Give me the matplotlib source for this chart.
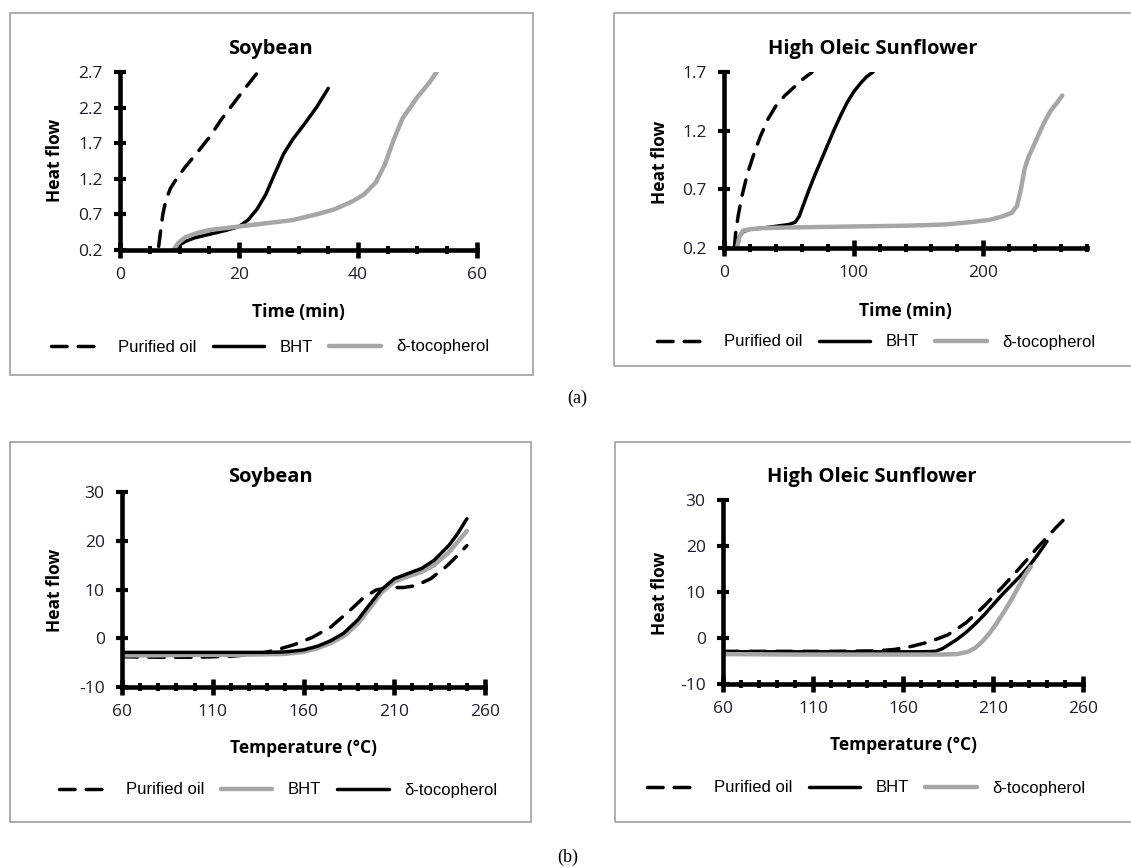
import matplotlib
matplotlib.use("Agg")
import matplotlib.pyplot as plt
from matplotlib.patches import Rectangle
from matplotlib.ticker import MultipleLocator

# (a) Soybean, time (min) vs heat flow
soy_t_pur = [6.5, 6.8, 7.2, 7.7, 8.5, 9.5, 11, 13, 15, 17, 19, 21, 23, 24]
soy_v_pur = [0.25, 0.45, 0.7, 0.9, 1.07, 1.2, 1.37, 1.57, 1.78, 2.03, 2.25, 2.47, 2.68, 2.8]
soy_t_bht = [9, 10, 11, 12.5, 15, 18, 20, 21.5, 23, 24.5, 26, 27.5, 29, 31, 33, 35]
soy_v_bht = [0.2, 0.27, 0.32, 0.37, 0.42, 0.48, 0.53, 0.62, 0.77, 0.98, 1.27, 1.55, 1.75, 1.97, 2.2, 2.47]
soy_t_toc = [9, 9.8, 11, 13, 15, 18, 21, 25, 29, 33, 36, 39, 41, 43, 44.5, 46, 47.5, 50, 52, 54]
soy_v_toc = [0.2, 0.3, 0.38, 0.44, 0.48, 0.51, 0.54, 0.58, 0.62, 0.7, 0.77, 0.88, 0.98, 1.15, 1.4, 1.75, 2.05, 2.35, 2.55, 2.8]

# (a) High oleic sunflower
hos_t_pur = [8, 9, 11, 14, 18, 23, 28, 34, 40, 47, 54, 61, 68]
hos_v_pur = [0.2, 0.33, 0.48, 0.65, 0.83, 1.0, 1.15, 1.3, 1.41, 1.5, 1.57, 1.64, 1.7]
hos_t_bht = [10, 12, 15, 20, 30, 40, 50, 55, 58, 61, 65, 70, 75, 80, 85, 90, 95, 100, 105, 110, 115]
hos_v_bht = [0.2, 0.3, 0.34, 0.36, 0.37, 0.385, 0.4, 0.42, 0.47, 0.56, 0.68, 0.82, 0.95, 1.08, 1.21,
             1.33, 1.44, 1.53, 1.6, 1.66, 1.7]
hos_t_toc = [10, 12, 15, 20, 30, 50, 80, 110, 140, 170, 190, 205, 215, 222, 226, 229, 232, 235, 238,
             242, 247, 252, 257, 261]
hos_v_toc = [0.2, 0.3, 0.35, 0.36, 0.37, 0.375, 0.38, 0.385, 0.39, 0.4, 0.42, 0.44, 0.47, 0.5, 0.56,
             0.7, 0.88, 0.98, 1.05, 1.15, 1.27, 1.37, 1.44, 1.5]

# (b) Soybean, temperature (C) vs heat flow
soyT_pur = [60, 80, 100, 120, 135, 145, 155, 165, 175, 185, 193, 200, 207, 215, 222, 230, 238, 245, 250]
soyH_pur = [-3.8, -3.9, -3.9, -3.7, -3.2, -2.4, -1.3, 0.2, 2.3, 5.5, 8.3, 9.9, 10.4, 10.4, 10.8, 12.2,
            14.5, 17, 19]
soyT_other = [60, 80, 100, 120, 140, 150, 160, 168, 175, 182, 190, 197, 203, 210, 217, 225, 232, 240, 245, 250]
soyH_bht = [-3.5, -3.5, -3.4, -3.4, -3.3, -3.2, -2.8, -2.0, -1.0, 0.4, 3.0, 6.4, 9.4, 11.6, 12.6, 13.6,
            15.0, 17.6, 19.8, 22.0]
soyH_toc = [-2.9, -2.9, -2.9, -2.9, -2.9, -2.8, -2.4, -1.6, -0.5, 1.0, 3.8, 7.2, 10.0, 12.2, 13.2, 14.3,
            16.0, 19.0, 21.5, 24.5]

# (b) High oleic sunflower
hosT_pur = [60, 90, 120, 145, 155, 165, 175, 185, 195, 205, 215, 225, 235, 245, 250]
hosH_pur = [-2.9, -2.9, -2.9, -2.8, -2.5, -1.8, -0.8, 0.7, 3.3, 6.9, 11.0, 15.3, 19.8, 24.0, 26.0]
hosT_bht = [60, 100, 140, 170, 178, 182, 186, 190, 195, 200, 205, 210, 215, 220, 225, 230, 235, 240]
hosH_bht = [-3.0, -3.0, -3.0, -3.0, -2.9, -2.3, -1.3, -0.3, 1.2, 3.0, 5.0, 7.2, 9.4, 11.4, 13.4, 15.6,
            18.2, 21.0]
hosT_toc = [60, 100, 140, 180, 190, 196, 200, 204, 208, 212, 216, 220, 224, 228, 231]
hosH_toc = [-3.5, -3.6, -3.6, -3.6, -3.5, -3.0, -2.2, -0.8, 1.0, 3.2, 5.6, 8.2, 11.0, 13.8, 15.5]

time_ticks_soy = [0, 20, 40, 60]
time_ticks_hos = [0, 100, 200]
temp_ticks = [60, 110, 160, 210, 260]
heat_ticks_soy = [0.2, 0.7, 1.2, 1.7, 2.2, 2.7]
heat_ticks_hos = [0.2, 0.7, 1.2, 1.7]
heat_ticks_temp = [-10, 0, 10, 20, 30]
series_names = ["Purified oil", "BHT", "δ-tocopherol"]

W, H = 1131, 868
fig = plt.figure(figsize=(W / 100, H / 100), dpi=100)

BLACK = "black"
GRAY = "#a6a6a6"
TXT = "#1e1e2e"
FONT = "Open Sans"
LEG_FONT = "Liberation Sans"


def px_axes(x0, y0, x1, y1):
    return fig.add_axes([x0 / W, 1 - y1 / H, (x1 - x0) / W, (y1 - y0) / H])


def ftext(x, y, s, **kw):
    fig.text(x / W, 1 - y / H, s, ha="center", va="center", **kw)


def box(x0, y0, x1, y1):
    fig.patches.append(Rectangle((x0 / W, 1 - y1 / H), (x1 - x0) / W, (y1 - y0) / H,
                                 transform=fig.transFigure, fill=False, ec="#a0a0a0", lw=1.2))


def style(ax, xlim, ylim, xmaj, xmin, ymaj, fmt):
    ax.set_xlim(*xlim)
    ax.set_ylim(*ylim)
    for s in ["top", "right"]:
        ax.spines[s].set_visible(False)
    for s in ["left", "bottom"]:
        ax.spines[s].set_linewidth(3.3)
    ax.set_xticks(xmaj)
    ax.xaxis.set_minor_locator(MultipleLocator(xmin))
    ax.set_yticks(ymaj)
    ax.set_yticklabels([fmt.format(v) for v in ymaj])
    ax.tick_params(axis="x", which="major", direction="inout", length=11, width=3.3, pad=7)
    ax.tick_params(axis="x", which="minor", direction="inout", length=6, width=2.8)
    ax.tick_params(axis="y", which="major", direction="inout", length=9, width=3.0, pad=8)
    for lab in ax.get_xticklabels() + ax.get_yticklabels():
        lab.set_fontfamily(FONT)
        lab.set_fontsize(12.5)
        lab.set_color(TXT)


def legend(ax, handles, cx, cy):
    ax.legend(handles, series_names, loc="center", bbox_to_anchor=(cx / W, 1 - cy / H),
              bbox_transform=fig.transFigure, ncol=3, frameon=False, handlelength=3.1,
              columnspacing=1.0, handletextpad=0.9,
              prop={"family": LEG_FONT, "size": 12})


def labels(title, tx, ty, xlabel, xx, xy, yx, yy):
    ftext(tx, ty, title, fontfamily=FONT, fontsize=14.5, fontweight="bold", color=BLACK)
    ftext(xx, xy, xlabel, fontfamily=FONT, fontsize=12.5, fontweight="bold", color=BLACK)
    ftext(yx, yy, "Heat flow", fontfamily=FONT, fontsize=12.5, fontweight="bold", color=BLACK, rotation=90)


dash = dict(color=BLACK, lw=2.5, dashes=(4.5, 3.2), dash_capstyle="round")
solid = dict(color=BLACK, lw=2.5, solid_capstyle="round")
gray = dict(color=GRAY, lw=3.2, solid_capstyle="round")

# panel boxes
box(10, 13, 533, 375)
box(614, 13, 1140, 366)
box(10, 442, 531, 822)
box(615, 442, 1140, 822)

# top-left
ax1 = px_axes(120, 72, 477, 250)
l1, = ax1.plot(soy_t_pur, soy_v_pur, **dash)
l2, = ax1.plot(soy_t_bht, soy_v_bht, **solid)
l3, = ax1.plot(soy_t_toc, soy_v_toc, **gray)
style(ax1, (0, 60), (0.2, 2.7), time_ticks_soy, 5, heat_ticks_soy, "{:.1f}")
legend(ax1, [l1, l2, l3], 270, 347)
labels("Soybean", 270, 49, "Time (min)", 298, 312, 55, 160)

# top-right
ax2 = px_axes(724, 72, 1087, 248)
l1, = ax2.plot(hos_t_pur, hos_v_pur, **dash)
l2, = ax2.plot(hos_t_bht, hos_v_bht, **solid)
l3, = ax2.plot(hos_t_toc, hos_v_toc, **gray)
style(ax2, (0, 280), (0.2, 1.7), time_ticks_hos, 20, heat_ticks_hos, "{:.1f}")
legend(ax2, [l1, l2, l3], 876, 342)
labels("High Oleic Sunflower", 873, 49, "Time (min)", 905, 311, 660, 162)

# bottom-left
ax3 = px_axes(122, 492, 485, 687)
l1, = ax3.plot(soyT_pur, soyH_pur, **dash)
l2, = ax3.plot(soyT_other, soyH_bht, **gray)
l3, = ax3.plot(soyT_other, soyH_toc, **solid)
style(ax3, (60, 260), (-10, 30), temp_ticks, 10, heat_ticks_temp, "{:d}")
legend(ax3, [l1, l2, l3], 278, 790)
labels("Soybean", 270, 477, "Temperature (°C)", 303, 748, 55, 590)

# bottom-right
ax4 = px_axes(723, 500, 1083, 684)
l1, = ax4.plot(hosT_pur, hosH_pur, **dash)
l2, = ax4.plot(hosT_bht, hosH_bht, **solid)
l3, = ax4.plot(hosT_toc, hosH_toc, **gray)
style(ax4, (60, 260), (-10, 30), temp_ticks, 10, heat_ticks_temp, "{:d}")
legend(ax4, [l1, l2, l3], 866, 788)
labels("High Oleic Sunflower", 872, 477, "Temperature (°C)", 903, 745, 660, 593)

ftext(577, 398, "(a)", fontfamily="Liberation Serif", fontsize=13)
ftext(568, 857, "(b)", fontfamily="Liberation Serif", fontsize=13)

fig.savefig("out.png", dpi=100)
